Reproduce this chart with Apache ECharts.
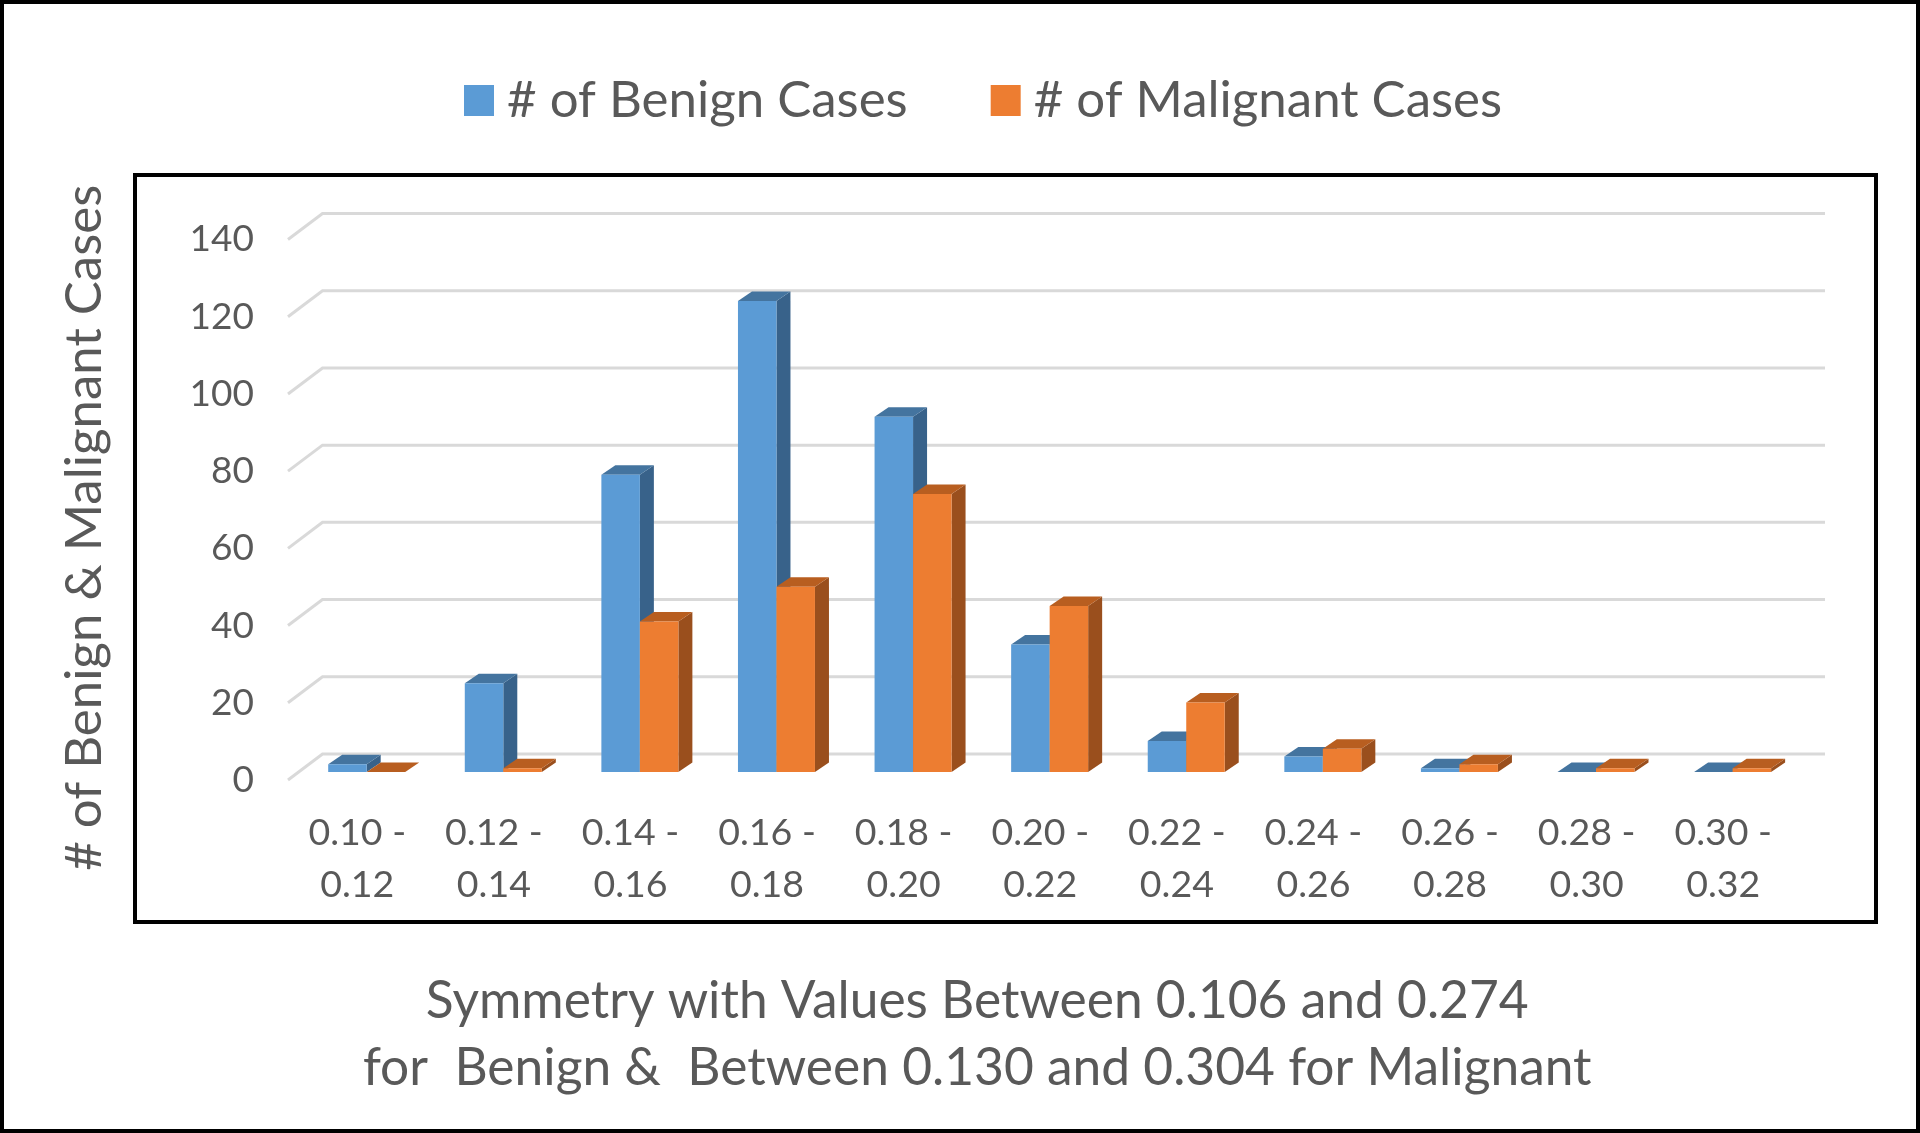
<!DOCTYPE html>
<html>
<head>
<meta charset="utf-8">
<style>html,body{margin:0;padding:0;background:#fff}#c{width:1920px;height:1133px}</style>
<script src="https://cdn.jsdelivr.net/npm/echarts@6/dist/echarts.min.js"></script>
</head>
<body>
<div id="c"></div>
<script>
const categories = ['0.10 -\n0.12','0.12 -\n0.14','0.14 -\n0.16','0.16 -\n0.18','0.18 -\n0.20','0.20 -\n0.22','0.22 -\n0.24','0.24 -\n0.26','0.26 -\n0.28','0.28 -\n0.30','0.30 -\n0.32'];
const benign = [2,23,77,122,92,33,8,4,1,0,0];
const malignant = [0,1,39,48,72,43,18,6,2,1,1];
const yTicks = [0,20,40,60,80,100,120,140];
const font = 'Lato';
const textColor = '#595959';
const WALL_DX = 34.5, WALL_DY = 26, BAR_DX = 10.4, BAR_DY = 8, BAR_W = 38.5, DEPTH_DX = 14, DEPTH_DY = 9.5;

function barRenderer(side, front, top, dark) {
  return function (params, api) {
    const p = api.coord([api.value(0), api.value(1)]);
    const b = api.coord([api.value(0), 0]);
    const x0 = p[0] + BAR_DX + (side < 0 ? -BAR_W : 0), x1 = x0 + BAR_W;
    const yt = p[1] - BAR_DY, yb = b[1] - BAR_DY;
    const poly = (pts, fill) => ({type: 'polygon', shape: {points: pts}, style: {fill: fill}});
    return {type: 'group', children: [
      poly([[x1,yt],[x1+DEPTH_DX,yt-DEPTH_DY],[x1+DEPTH_DX,yb-DEPTH_DY],[x1,yb]], dark),
      poly([[x0,yt],[x0+DEPTH_DX,yt-DEPTH_DY],[x1+DEPTH_DX,yt-DEPTH_DY],[x1,yt]], top),
      poly([[x0,yt],[x1,yt],[x1,yb],[x0,yb]], front)
    ]};
  };
}
function gridRenderer(params, api) {
  const cs = params.coordSys;
  const y = api.coord([0, api.value(1)])[1];
  return {type: 'polyline', silent: true,
    shape: {points: [[cs.x, y],[cs.x + WALL_DX, y - WALL_DY],[cs.x + cs.width + WALL_DX, y - WALL_DY]]},
    style: {stroke: '#d9d9d9', lineWidth: 3, fill: null}};
}
const chart = echarts.init(document.getElementById('c'), null, {renderer: 'canvas'});
chart.setOption({
  animation: false,
  backgroundColor: '#fff',
  textStyle: {fontFamily: font},
  legend: {
    data: ['# of Benign Cases', '# of Malignant Cases'],
    left: 459, top: 70, itemWidth: 30, itemHeight: 31, itemGap: 83,
    icon: 'rect',
    textStyle: {fontFamily: font, fontSize: 51, color: textColor, padding: [2,0,0,8]}
  },
  grid: {left: 288, top: 239.5, width: 1502.5, height: 540.5},
  xAxis: {
    type: 'category', data: categories,
    axisLine: {show: false}, axisTick: {show: false}, splitLine: {show: false},
    axisLabel: {margin: 27, fontFamily: font, fontSize: 37.5, color: textColor, lineHeight: 52, interval: 0, padding: [0,0,0,2]},
    name: 'Symmetry with Values Between 0.106 and 0.274\nfor  Benign &  Between 0.130 and 0.304 for Malignant',
    nameLocation: 'middle', nameGap: 187.5,
    nameTextStyle: {fontFamily: font, fontSize: 51.5, color: textColor, lineHeight: 67, padding: [0,124,0,0]}
  },
  yAxis: {
    type: 'value', min: 0, max: 140, interval: 20,
    axisLine: {show: false}, axisTick: {show: false}, splitLine: {show: false},
    axisLabel: {margin: 34, fontFamily: font, fontSize: 37, color: textColor, padding: [3,0,0,0]},
    name: '# of Benign & Malignant Cases',
    nameLocation: 'middle', nameGap: 178,
    nameTextStyle: {fontFamily: font, fontSize: 51, color: textColor, padding: [0,36,0,0]}
  },
  graphic: [
    {type: 'rect', z: 100, silent: true, shape: {x: 2, y: 2, width: 1916, height: 1129}, style: {fill: null, stroke: '#000', lineWidth: 4}},
    {type: 'rect', z: 100, silent: true, shape: {x: 135, y: 175, width: 1741, height: 747}, style: {fill: null, stroke: '#000', lineWidth: 4}}
  ],
  series: [
    {type: 'custom', name: 'grid', silent: true, clip: false, z: 1, renderItem: gridRenderer,
     encode: {x: 0, y: 1}, data: yTicks.map(v => [0, v])},
    {type: 'custom', name: '# of Benign Cases', clip: false, z: 2, itemStyle: {color: '#5B9BD5'},
     renderItem: barRenderer(-1, '#5B9BD5', '#44749F', '#38628A'),
     encode: {x: 0, y: 1}, data: benign.map((v, i) => [i, v])},
    {type: 'custom', name: '# of Malignant Cases', clip: false, z: 3, itemStyle: {color: '#ED7D31'},
     renderItem: barRenderer(1, '#ED7D31', '#B85E20', '#9A4F1D'),
     encode: {x: 0, y: 1}, data: malignant.map((v, i) => [i, v])}
  ]
});
</script>
</body>
</html>
